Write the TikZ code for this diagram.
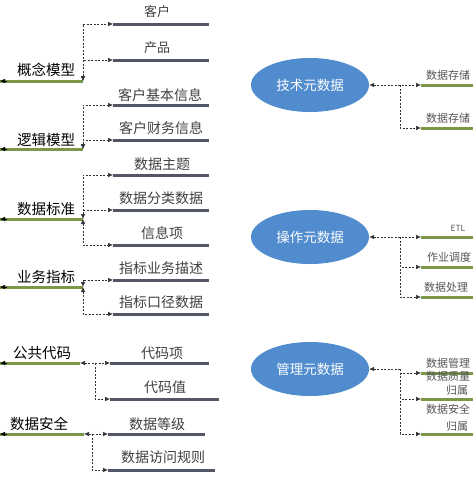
\documentclass[tikz,border=0pt]{standalone}
\usepackage{fontspec}
\setmainfont{Noto Sans CJK SC}
\usetikzlibrary{arrows.meta,shapes.geometric}
\definecolor{gline}{RGB}{122,152,72}
\definecolor{dline}{RGB}{82,86,102}
\definecolor{ellfill}{RGB}{80,140,206}
\definecolor{rtext}{RGB}{85,85,85}
\tikzset{
  grn/.style={gline,line width=3pt},
  drk/.style={dline,line width=3pt},
  dsh/.style={black!80,line width=0.6pt,dash pattern=on 2pt off 1.5pt},
  tip/.style={-{Latex[length=5pt,width=4.5pt]}},
  both/.style={{Latex[length=5pt,width=4.5pt]}-{Latex[length=5pt,width=4.5pt]}},
  llbl/.style={font=\fontsize{14.5}{16}\selectfont,text=black,inner sep=0pt},
  dlbl/.style={font=\fontsize{14}{16}\selectfont,text=black!75,inner sep=0pt},
  rlbl/.style={font=\fontsize{11}{12}\selectfont,text=rtext,inner sep=0pt,anchor=west},
  ell/.style={ellipse,fill=ellfill,minimum width=118pt,minimum height=54pt,inner sep=0pt,text=white,font=\fontsize{13.5}{15}\selectfont},
}
\begin{document}
\begin{tikzpicture}[x=1pt,y=-1pt]
\useasboundingbox (0,0) rectangle (473,477);
\clip (0,0) rectangle (473,477);
% ---------- left groups: green lines ----------
\foreach \n/\y/\r in {a/81/83,b/149/83,c/219/83,d/287/83,e/363/80,f/434/84}{
  \coordinate (\n L) at (0,\y);
  \coordinate (\n R) at (\r,\y);
  \coordinate (\n T) at (7,\y);
  \draw[grn] (\n L) -- (\n R);
  \draw[tip,black,line width=0.6pt] (\n T) -- (\n L);
}
\node[llbl] (la) at (46,70) {概念模型};
\node[llbl] (lb) at (46,140) {逻辑模型};
\node[llbl] (lc) at (46,209) {数据标准};
\node[llbl] (ld) at (46,277) {业务指标};
\node[llbl] (le) at (42,353) {公共代码};
\node[llbl] (lf) at (39,424) {数据安全};
% ---------- dark lines ----------
\foreach \n/\x/\y/\e in {a1/113/24/209,a2/113/60/209,b1/113/105/209,b2/113/140/209,
  c1/113/175/209,c2/113/210/209,c3/113/245/209,d1/113/280/209,d2/113/314/209,
  e1/110/363/209,e2/110/399/219,f1/108/434/205,f2/108/470/215}{
  \coordinate (\n S) at (\x,\y);
  \coordinate (\n E) at (\e,\y);
  \draw[drk] (\n S) -- (\n E);
}
\node[dlbl,font=\fontsize{13}{15}\selectfont] (ta1) at (157,12) {客户};
\node[dlbl,font=\fontsize{13}{15}\selectfont] (ta2) at (157,48) {产品};
\node[dlbl] (tb1) at (160,95) {客户基本信息};
\node[dlbl] (tb2) at (161,128) {客户财务信息};
\node[dlbl] (tc1) at (162,164) {数据主题};
\node[dlbl] (tc2) at (161,198) {数据分类数据};
\node[dlbl] (tc3) at (162,233) {信息项};
\node[dlbl] (td1) at (161,268) {指标业务描述};
\node[dlbl] (td2) at (161,302) {指标口径数据};
\node[dlbl] (te1) at (162,353) {代码项};
\node[dlbl] (te2) at (165,387) {代码值};
\node[dlbl] (tf1) at (157,424) {数据等级};
\node[dlbl] (tf2) at (163,457) {数据访问规则};
% ---------- left dashed connectors ----------
\draw[dsh,both] (aR) |- (a1S);
\draw[dsh,both] (aR) |- (a2S);
\draw[dsh,both] (bR) |- (b1S);
\draw[dsh,both] (bR) |- (b2S);
\draw[dsh,both] (cR) |- (c1S);
\coordinate (cJ) at (83,210);
\draw[dsh,tip] (cJ) -- (c2S);
\draw[dsh,both] (cR) |- (c3S);
\draw[dsh,both] (dR) |- (d1S);
\draw[dsh,both] (dR) |- (d2S);
\draw[dsh,both] (eR) -- (e1S);
\coordinate (eJ) at (95,363);
\draw[dsh,tip] (eJ) |- (e2S);
\draw[dsh,both] (fR) -- (f1S);
\coordinate (fJ) at (92,434);
\draw[dsh,tip] (fJ) |- (f2S);
% ---------- right: ellipses ----------
\node[ell] (tech) at (310,85) {技术元数据};
\node[ell] (oper) at (310,237) {操作元数据};
\node[ell] (mgmt) at (310,369) {管理元数据};
\foreach \n/\y in {p1/85,p2/128,q1/237,q2/267,q3/297,r1/373,r2/399,r3/434}{
  \coordinate (\n S) at (421,\y);
  \coordinate (\n E) at (475,\y);
  \draw[grn] (\n S) -- (\n E);
}
\coordinate (pJ) at (400,85);
\coordinate (qJ) at (400,237);
\coordinate (rJ) at (400,369);
\draw[dsh,both] (tech.east) -- (p1S);
\draw[dsh,tip] (pJ) |- (p2S);
\draw[dsh,both] (oper.east) -- (q1S);
\draw[dsh,tip] (qJ) |- (q2S);
\draw[dsh,tip] (qJ) |- (q3S);
\draw[dsh,{Latex[length=5pt,width=4.5pt]}-] (mgmt.east) -- (rJ);
\draw[dsh,tip] (rJ) |- (r1S);
\draw[dsh,tip] (rJ) |- (r2S);
\draw[dsh,tip] (rJ) |- (r3S);
\node[rlbl] (tp1) at (426,75) {数据存储};
\node[rlbl] (tp2) at (426,118) {数据存储};
\node[rlbl,anchor=center,font=\fontsize{8.5}{10}\selectfont] (tq1) at (458,228) {ETL};
\node[rlbl] (tq2) at (427,257) {作业调度};
\node[rlbl] (tq3) at (424,287) {数据处理};
\node[rlbl] (tr1) at (426,363) {数据管理};
\node[rlbl] (tr1b) at (426,376) {数据质量};
\node[rlbl,anchor=center] (tr2) at (457,390) {归属};
\node[rlbl] (tr3) at (426,409) {数据安全};
\node[rlbl,anchor=center] (tr4) at (457,426) {归属};
\end{tikzpicture}
\end{document}
